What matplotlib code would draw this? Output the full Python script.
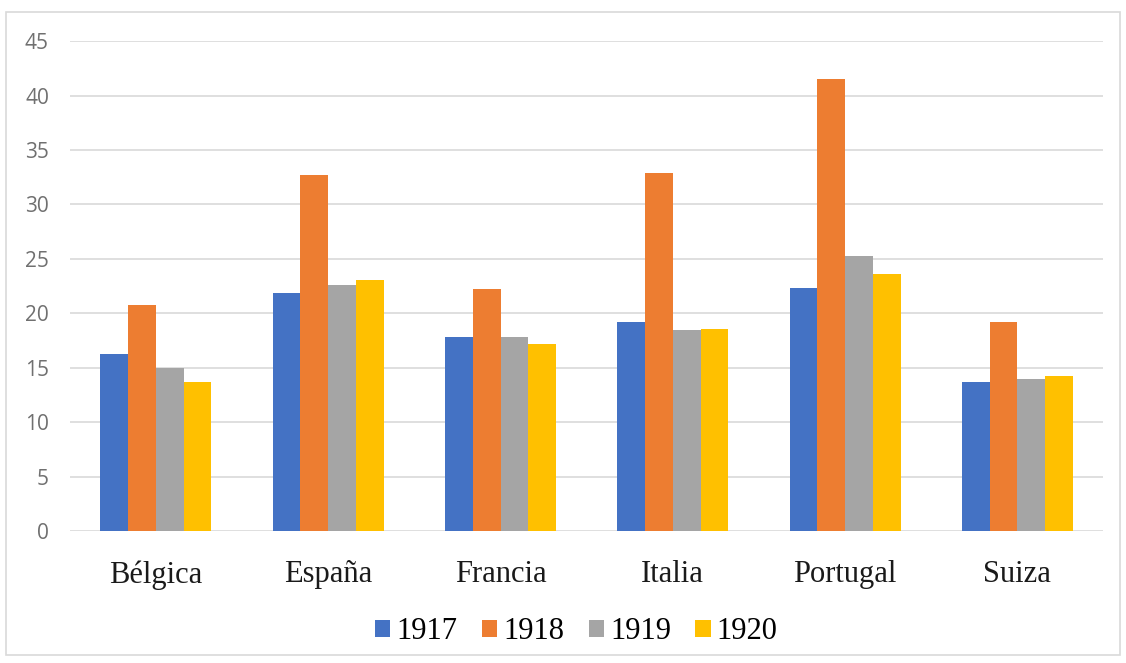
import numpy as np
from matplotlib import pyplot as plt
from matplotlib.patches import Rectangle

# data
countries = ["Bélgica", "España", "Francia", "Italia", "Portugal", "Suiza"]
years = ["1917", "1918", "1919", "1920"]
v1917 = [16.3, 21.9, 17.8, 19.2, 22.3, 13.7]
v1918 = [20.8, 32.7, 22.2, 32.9, 41.5, 19.2]
v1919 = [15.0, 22.6, 17.8, 18.5, 25.3, 14.0]
v1920 = [13.7, 23.1, 17.2, 18.6, 23.6, 14.2]
yticks = list(range(0, 46, 5))
colors = ["#4472C4", "#ED7D31", "#A5A5A5", "#FFC000"]

fig = plt.figure(figsize=(11.26, 6.63), dpi=100)
ax = fig.add_axes([0.062, 0.199, 0.918, 0.739])

# chart frame
fig.patches.append(Rectangle((0.005, 0.012), 0.99, 0.97, transform=fig.transFigure,
                             fill=False, edgecolor="#D9D9D9", linewidth=1.2))

x = np.arange(len(countries))
w = 0.161
for i, (vals, yr) in enumerate(zip([v1917, v1918, v1919, v1920], years)):
    ax.bar(x + (i - 1.5) * w, vals, width=w, color=colors[i], label=yr, zorder=3)

ax.set_xlim(-0.5, len(countries) - 0.5)
ax.set_ylim(0, 45)
ax.set_yticks(yticks)
ax.set_yticklabels([str(t) for t in yticks], family="Open Sans", fontsize=15, color="#707070")
ax.grid(axis="y", color="#D9D9D9", linewidth=1.2, zorder=0)
for s in ax.spines.values():
    s.set_visible(False)
ax.tick_params(axis="y", length=0, pad=15)
ax.tick_params(axis="x", length=0, pad=21)
ax.set_xticks(x)
ax.set_xticklabels(countries, fontsize=22, family="Liberation Serif", color="#1a1a1a")

leg = ax.legend(loc="upper center", bbox_to_anchor=(0.49, -0.12), ncol=4, frameon=False,
                prop={"family": "Liberation Serif", "size": 22},
                handlelength=0.5, handleheight=0.45, handletextpad=0.2, columnspacing=0.8)

fig.savefig("out.png", dpi=100)
